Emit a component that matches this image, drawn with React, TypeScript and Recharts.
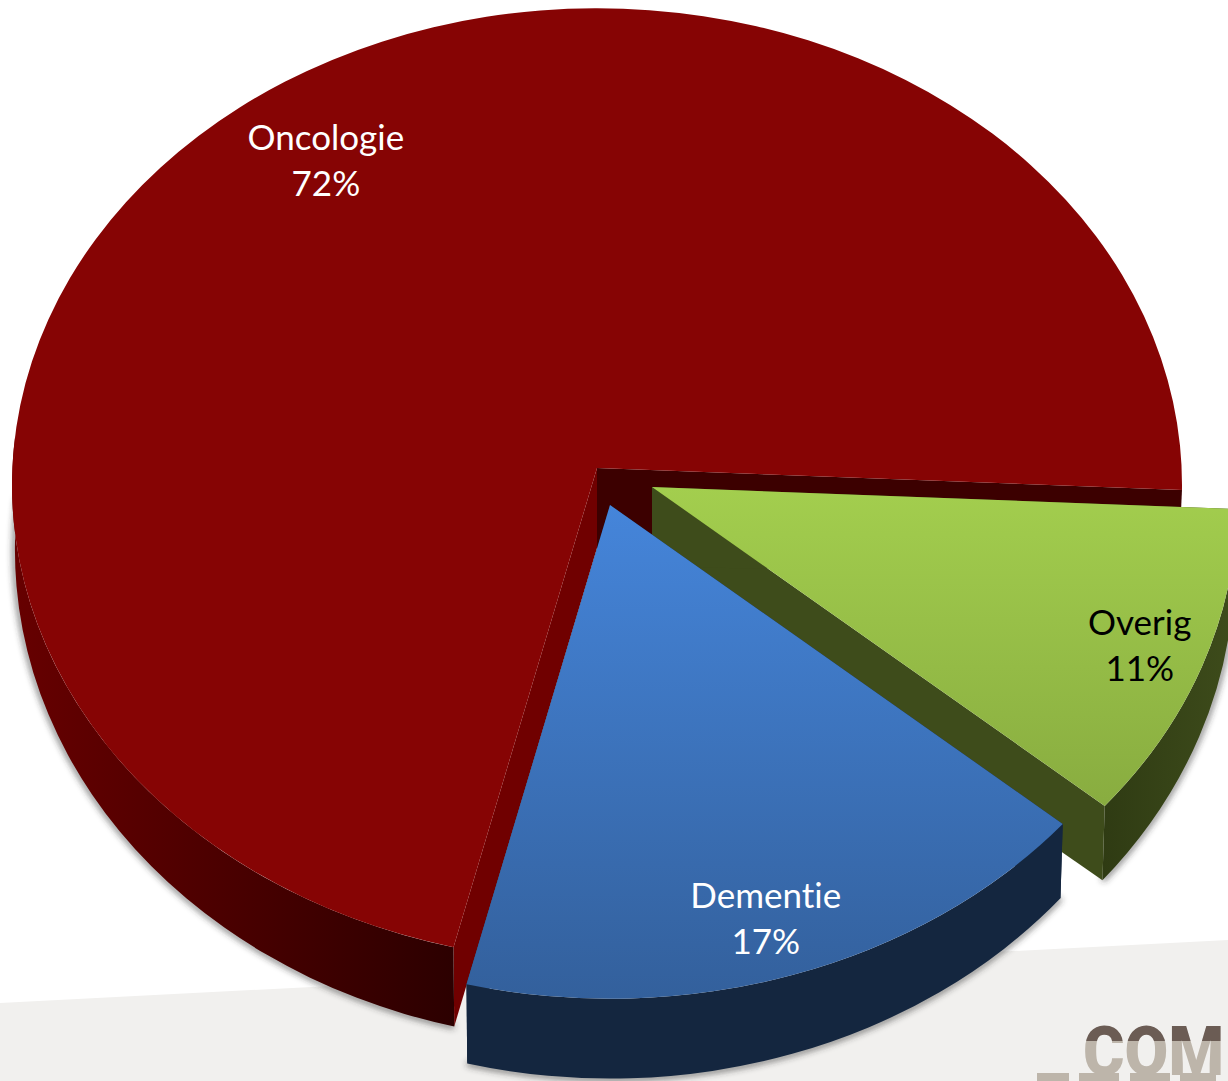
import { Pie, PieChart } from 'recharts';

const categories = ['Oncologie', 'Overig', 'Dementie'];
const values = [72, 11, 17];

const data = categories.map((name, i) => ({ name, value: values[i] }));

const WIDTH = 1228;
const HEIGHT = 1081;
const CX = 597;
const CY = 485;
const RADIUS = 585;
// how the flat pie is tilted into the picture
const SQUASH = 0.815;
const APEX_LIFT = 17;
const DEPTH = 65;
const APEX_DEPTH = 80;
const BOTTOM_RX = 0.995;
const BOTTOM_RY = 1.031;

const sliceStyles: Record<string, any> = {
  Oncologie: { dx: 0, dy: 0, top: ['#860404', '#860404'], edgeA: '#700000', edgeB: '#3c0000', wall: ['#660000', '#2c0000'], text: '#ffffff', labelR: 0.823, labelShift: -6 },
  Overig: { dx: 55, dy: 19, top: ['#a3ce4e', '#7a9a38'], edgeA: '#3e4c1b', edgeB: '#3e4c1b', wall: ['#3e4c1b', '#2f3b13'], text: '#000000', labelR: 0.885, labelShift: 0 },
  Dementie: { dx: 13, dy: 37, top: ['#4585da', '#33609c'], edgeA: '#14263f', edgeB: '#14263f', wall: ['#14263f', '#14263f'], text: '#ffffff', labelR: 0.875, labelShift: 1.2 },
};

const rad = (t: number) => (t * Math.PI) / 180;

// the perspective stretches the front of the pie a little
function warp(t: number) {
  return t + 5.63 - 5.03 * Math.cos(rad(t)) - 3.23 * Math.sin(rad(t));
}

function rimPoint(t: number, x: number, y: number, rx: number, ry: number) {
  return [x + rx * Math.cos(rad(t)), y + ry * Math.sin(rad(t))];
}

function arcTo(t1: number, t2: number, x: number, y: number, rx: number, ry: number) {
  const [ex, ey] = rimPoint(t2, x, y, rx, ry);
  const large = Math.abs(t2 - t1) > 180 ? 1 : 0;
  const sweep = t2 > t1 ? 1 : 0;
  return `A ${rx} ${ry} 0 ${large} ${sweep} ${ex} ${ey}`;
}

function Slice3D(props: any) {
  const { cx, cy, outerRadius, startAngle, endAngle, name } = props;
  const s = sliceStyles[name];
  let t1 = warp(-startAngle);
  let t2 = warp(-endAngle);
  if (t1 >= 360) {
    t1 -= 360;
    t2 -= 360;
  }
  const x = cx + s.dx;
  const y = cy + s.dy;
  const rx = outerRadius;
  const ry = outerRadius * SQUASH;
  const ax = x;
  const ay = y - APEX_LIFT;
  const by = y + DEPTH;
  const brx = rx * BOTTOM_RX;
  const bry = ry * BOTTOM_RY;

  const [sx, sy] = rimPoint(t1, x, y, rx, ry);
  const [ex, ey] = rimPoint(t2, x, y, rx, ry);
  const [bsx, bsy] = rimPoint(t1, x, by, brx, bry);
  const [bex, bey] = rimPoint(t2, x, by, brx, bry);

  const topPath = `M ${ax} ${ay} L ${sx} ${sy} ${arcTo(t1, t2, x, y, rx, ry)} Z`;
  const edgeStart = `M ${ax} ${ay} L ${sx} ${sy} L ${bsx} ${bsy} L ${ax} ${ay + APEX_DEPTH} Z`;
  const edgeEnd = `M ${ax} ${ay} L ${ex} ${ey} L ${bex} ${bey} L ${ax} ${ay + APEX_DEPTH} Z`;

  // outer wall only exists on the front half
  const w1 = Math.max(t1, 0);
  const w2 = Math.min(t2, 186);
  const [wsx, wsy] = rimPoint(w1, x, y, rx, ry);
  const [wex, wey] = rimPoint(w2, x, by, brx, bry);
  const [wbx, wby] = rimPoint(w1, x, by, brx, bry);
  const wallPath = `M ${wsx} ${wsy} ${arcTo(w1, w2, x, y, rx, ry)} L ${wex} ${wey} ${arcTo(w2, w1, x, by, brx, bry)} Z`;
  const shadowPath = `M ${wbx} ${wby} ${arcTo(w1, w2, x, by, brx, bry)}`;

  const id = name.toLowerCase();
  return (
    <g>
      <defs>
        <linearGradient id={`top-${id}`} gradientUnits="userSpaceOnUse" x1="0" y1={ay} x2="0" y2={y + ry}>
          <stop offset="0" stopColor={s.top[0]} />
          <stop offset="1" stopColor={s.top[1]} />
        </linearGradient>
        <linearGradient id={`wall-${id}`} gradientUnits="userSpaceOnUse" x1={Math.min(wsx, wex)} y1="0" x2={Math.max(wsx, wex)} y2="0">
          <stop offset="0" stopColor={name === 'Oncologie' ? s.wall[0] : s.wall[1]} />
          <stop offset="1" stopColor={name === 'Oncologie' ? s.wall[1] : s.wall[0]} />
        </linearGradient>
        <filter id={`blur-${id}`} x="-10%" y="-10%" width="120%" height="120%">
          <feGaussianBlur stdDeviation="3" />
        </filter>
      </defs>
      <path d={shadowPath} fill="none" stroke="#333" strokeOpacity={0.65} strokeWidth={5} filter={`url(#blur-${id})`} />
      <path d={edgeEnd} fill={s.edgeB} />
      <path d={edgeStart} fill={s.edgeA} />
      <path d={wallPath} fill={`url(#wall-${id})`} />
      <path d={topPath} fill={`url(#top-${id})`} />
    </g>
  );
}

function SliceLabel(props: any) {
  const { cx, cy, outerRadius, midAngle, name, value } = props;
  const s = sliceStyles[name];
  const t = warp(-midAngle) + s.labelShift;
  const x = cx + s.dx + outerRadius * s.labelR * Math.cos(rad(t));
  const y = cy + s.dy + outerRadius * SQUASH * s.labelR * Math.sin(rad(t));
  return (
    <text
      x={x}
      y={y}
      textAnchor="middle"
      fill={s.text}
      fontFamily="Lato, sans-serif"
      fontSize={35}
      style={{ fontVariantLigatures: 'none' }}
    >
      <tspan x={x} dy={-11}>{name}</tspan>
      <tspan x={x} dy={46}>{`${value}%`}</tspan>
    </text>
  );
}

export default function App() {
  return (
    <div style={{ position: 'absolute', left: 0, top: 0, width: WIDTH, height: HEIGHT, overflow: 'hidden', background: '#fff' }}>
      <svg width={WIDTH} height={HEIGHT} style={{ position: 'absolute', left: 0, top: 0 }}>
        <defs>
          <linearGradient id="logo" gradientUnits="userSpaceOnUse" x1="0" y1="1026" x2="0" y2="1076">
            <stop offset="0.3" stopColor="#6b5c54" />
            <stop offset="0.3" stopColor="#bdb5aa" />
          </linearGradient>
        </defs>
        <path d="M 0 1003 L 1228 940 L 1228 1081 L 0 1081 Z" fill="#f1f0ee" />
        <text
          x={1083}
          y={1075}
          fontFamily="Roboto, sans-serif"
          fontWeight={900}
          fontSize={68}
          textLength={141}
          lengthAdjust="spacingAndGlyphs"
          fill="url(#logo)"
        >
          COM
        </text>
        <rect x={1037} y={1073} width={32} height={8} fill="#bdb5aa" />
        <rect x={1079} y={1073} width={40} height={8} fill="#bdb5aa" />
        <rect x={1130} y={1073} width={40} height={8} fill="#bdb5aa" />
        <rect x={1180} y={1073} width={36} height={8} fill="#bdb5aa" />
      </svg>
      <div style={{ position: 'absolute', left: 0, top: 0 }}>
        <PieChart width={WIDTH} height={HEIGHT} margin={{ top: 0, right: 0, bottom: 0, left: 0 }}>
          <Pie
            data={data}
            dataKey="value"
            nameKey="name"
            cx={CX}
            cy={CY}
            outerRadius={RADIUS}
            startAngle={-100.8}
            endAngle={-460.8}
            stroke="none"
            shape={Slice3D}
            label={SliceLabel}
            labelLine={false}
            isAnimationActive={false}
          />
        </PieChart>
      </div>
    </div>
  );
}
